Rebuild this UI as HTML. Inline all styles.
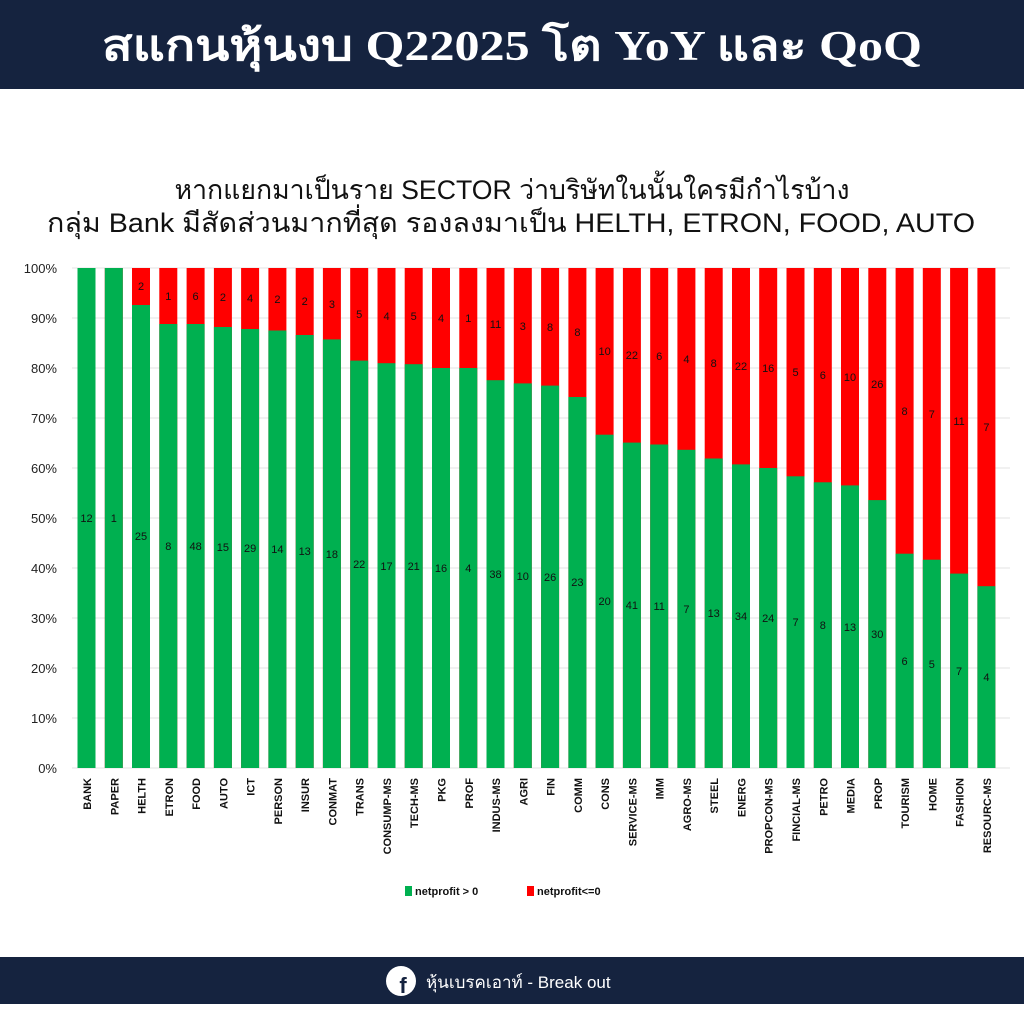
<!DOCTYPE html>
<html><head><meta charset="utf-8"><style>
html,body{margin:0;padding:0;background:#fff;width:1024px;height:1024px;overflow:hidden}
svg{display:block;font-family:"Liberation Sans","DejaVu Sans",sans-serif}
</style></head><body>
<svg width="1024" height="1024" viewBox="0 0 1024 1024" xmlns="http://www.w3.org/2000/svg">
<rect x="0" y="0" width="1024" height="89" fill="#15233f"/>
<text x="512" y="60" text-anchor="middle" fill="#fff" font-size="42" font-weight="bold" font-family="'Liberation Serif','DejaVu Serif',serif" textLength="820" lengthAdjust="spacingAndGlyphs">สแกนหุ้นงบ Q22025 โต YoY และ QoQ</text>
<text x="512" y="199" text-anchor="middle" fill="#111" font-size="27" textLength="675" lengthAdjust="spacingAndGlyphs">หากแยกมาเป็นราย SECTOR ว่าบริษัทในนั้นใครมีกำไรบ้าง</text>
<text x="511" y="232" text-anchor="middle" fill="#111" font-size="27" textLength="928" lengthAdjust="spacingAndGlyphs">กลุ่ม Bank มีสัดส่วนมากที่สุด รองลงมาเป็น HELTH, ETRON, FOOD, AUTO</text>
<g stroke="#e3e3e3" stroke-width="1">
<line x1="72" x2="1010" y1="268" y2="268"/><line x1="72" x2="1010" y1="318" y2="318"/><line x1="72" x2="1010" y1="368" y2="368"/><line x1="72" x2="1010" y1="418" y2="418"/><line x1="72" x2="1010" y1="468" y2="468"/><line x1="72" x2="1010" y1="518" y2="518"/><line x1="72" x2="1010" y1="568" y2="568"/><line x1="72" x2="1010" y1="618" y2="618"/><line x1="72" x2="1010" y1="668" y2="668"/><line x1="72" x2="1010" y1="718" y2="718"/><line x1="72" x2="1010" y1="768" y2="768"/>
</g>
<g font-size="13" fill="#222" text-anchor="end">
<text x="57" y="273">100%</text><text x="57" y="323">90%</text><text x="57" y="373">80%</text><text x="57" y="423">70%</text><text x="57" y="473">60%</text><text x="57" y="523">50%</text><text x="57" y="573">40%</text><text x="57" y="623">30%</text><text x="57" y="673">20%</text><text x="57" y="723">10%</text><text x="57" y="773">0%</text>
</g>
<g fill="#ff0000">
<rect x="77.5" y="268" width="18" height="500"/><rect x="104.8" y="268" width="18" height="500"/><rect x="132" y="268" width="18" height="500"/><rect x="159.3" y="268" width="18" height="500"/><rect x="186.6" y="268" width="18" height="500"/><rect x="213.9" y="268" width="18" height="500"/><rect x="241.1" y="268" width="18" height="500"/><rect x="268.4" y="268" width="18" height="500"/><rect x="295.7" y="268" width="18" height="500"/><rect x="322.9" y="268" width="18" height="500"/><rect x="350.2" y="268" width="18" height="500"/><rect x="377.5" y="268" width="18" height="500"/><rect x="404.7" y="268" width="18" height="500"/><rect x="432" y="268" width="18" height="500"/><rect x="459.3" y="268" width="18" height="500"/><rect x="486.5" y="268" width="18" height="500"/><rect x="513.8" y="268" width="18" height="500"/><rect x="541.1" y="268" width="18" height="500"/><rect x="568.4" y="268" width="18" height="500"/><rect x="595.6" y="268" width="18" height="500"/><rect x="622.9" y="268" width="18" height="500"/><rect x="650.2" y="268" width="18" height="500"/><rect x="677.4" y="268" width="18" height="500"/><rect x="704.7" y="268" width="18" height="500"/><rect x="732" y="268" width="18" height="500"/><rect x="759.2" y="268" width="18" height="500"/><rect x="786.5" y="268" width="18" height="500"/><rect x="813.8" y="268" width="18" height="500"/><rect x="841" y="268" width="18" height="500"/><rect x="868.3" y="268" width="18" height="500"/><rect x="895.6" y="268" width="18" height="500"/><rect x="922.8" y="268" width="18" height="500"/><rect x="950.1" y="268" width="18" height="500"/><rect x="977.4" y="268" width="18" height="500"/>
</g>
<g fill="#00b050">
<rect x="77.5" y="268" width="18" height="500"/><rect x="104.8" y="268" width="18" height="500"/><rect x="132" y="305" width="18" height="463"/><rect x="159.3" y="324" width="18" height="444"/><rect x="186.6" y="324" width="18" height="444"/><rect x="213.9" y="327" width="18" height="441"/><rect x="241.1" y="329" width="18" height="439"/><rect x="268.4" y="330.5" width="18" height="437.5"/><rect x="295.7" y="335" width="18" height="433"/><rect x="322.9" y="339.4" width="18" height="428.6"/><rect x="350.2" y="360.6" width="18" height="407.4"/><rect x="377.5" y="363.2" width="18" height="404.8"/><rect x="404.7" y="364.2" width="18" height="403.8"/><rect x="432" y="368" width="18" height="400"/><rect x="459.3" y="368" width="18" height="400"/><rect x="486.5" y="380.2" width="18" height="387.8"/><rect x="513.8" y="383.4" width="18" height="384.6"/><rect x="541.1" y="385.6" width="18" height="382.4"/><rect x="568.4" y="397" width="18" height="371"/><rect x="595.6" y="434.7" width="18" height="333.3"/><rect x="622.9" y="442.6" width="18" height="325.4"/><rect x="650.2" y="444.5" width="18" height="323.5"/><rect x="677.4" y="449.8" width="18" height="318.2"/><rect x="704.7" y="458.5" width="18" height="309.5"/><rect x="732" y="464.4" width="18" height="303.6"/><rect x="759.2" y="468" width="18" height="300"/><rect x="786.5" y="476.3" width="18" height="291.7"/><rect x="813.8" y="482.3" width="18" height="285.7"/><rect x="841" y="485.4" width="18" height="282.6"/><rect x="868.3" y="500.1" width="18" height="267.9"/><rect x="895.6" y="553.7" width="18" height="214.3"/><rect x="922.8" y="559.7" width="18" height="208.3"/><rect x="950.1" y="573.6" width="18" height="194.4"/><rect x="977.4" y="586.2" width="18" height="181.8"/>
</g>
<g font-size="11" fill="#111" text-anchor="middle">
<text x="86.5" y="522">12</text><text x="113.8" y="522">1</text><text x="141" y="540">25</text><text x="168.3" y="550">8</text><text x="195.6" y="550">48</text><text x="222.9" y="551">15</text><text x="250.1" y="552">29</text><text x="277.4" y="553">14</text><text x="304.7" y="555">13</text><text x="331.9" y="558">18</text><text x="359.2" y="568">22</text><text x="386.5" y="570">17</text><text x="413.7" y="570">21</text><text x="441" y="572">16</text><text x="468.3" y="572">4</text><text x="495.5" y="578">38</text><text x="522.8" y="580">10</text><text x="550.1" y="581">26</text><text x="577.4" y="586">23</text><text x="604.6" y="605">20</text><text x="631.9" y="609">41</text><text x="659.2" y="610">11</text><text x="686.4" y="613">7</text><text x="713.7" y="617">13</text><text x="741" y="620">34</text><text x="768.2" y="622">24</text><text x="795.5" y="626">7</text><text x="822.8" y="629">8</text><text x="850" y="631">13</text><text x="877.3" y="638">30</text><text x="904.6" y="665">6</text><text x="931.8" y="668">5</text><text x="959.1" y="675">7</text><text x="986.4" y="681">4</text>
<text x="141" y="290">2</text><text x="168.3" y="300">1</text><text x="195.6" y="300">6</text><text x="222.9" y="301">2</text><text x="250.1" y="302">4</text><text x="277.4" y="303">2</text><text x="304.7" y="305">2</text><text x="331.9" y="308">3</text><text x="359.2" y="318">5</text><text x="386.5" y="320">4</text><text x="413.7" y="320">5</text><text x="441" y="322">4</text><text x="468.3" y="322">1</text><text x="495.5" y="328">11</text><text x="522.8" y="330">3</text><text x="550.1" y="331">8</text><text x="577.4" y="336">8</text><text x="604.6" y="355">10</text><text x="631.9" y="359">22</text><text x="659.2" y="360">6</text><text x="686.4" y="363">4</text><text x="713.7" y="367">8</text><text x="741" y="370">22</text><text x="768.2" y="372">16</text><text x="795.5" y="376">5</text><text x="822.8" y="379">6</text><text x="850" y="381">10</text><text x="877.3" y="388">26</text><text x="904.6" y="415">8</text><text x="931.8" y="418">7</text><text x="959.1" y="425">11</text><text x="986.4" y="431">7</text>
</g>
<g font-size="11" font-weight="bold" fill="#111" text-anchor="end">
<text transform="translate(91,778) rotate(-90)">BANK</text><text transform="translate(118.3,778) rotate(-90)">PAPER</text><text transform="translate(145.5,778) rotate(-90)">HELTH</text><text transform="translate(172.8,778) rotate(-90)">ETRON</text><text transform="translate(200.1,778) rotate(-90)">FOOD</text><text transform="translate(227.4,778) rotate(-90)">AUTO</text><text transform="translate(254.6,778) rotate(-90)">ICT</text><text transform="translate(281.9,778) rotate(-90)">PERSON</text><text transform="translate(309.2,778) rotate(-90)">INSUR</text><text transform="translate(336.4,778) rotate(-90)">CONMAT</text><text transform="translate(363.7,778) rotate(-90)">TRANS</text><text transform="translate(391,778) rotate(-90)">CONSUMP-MS</text><text transform="translate(418.2,778) rotate(-90)">TECH-MS</text><text transform="translate(445.5,778) rotate(-90)">PKG</text><text transform="translate(472.8,778) rotate(-90)">PROF</text><text transform="translate(500,778) rotate(-90)">INDUS-MS</text><text transform="translate(527.3,778) rotate(-90)">AGRI</text><text transform="translate(554.6,778) rotate(-90)">FIN</text><text transform="translate(581.9,778) rotate(-90)">COMM</text><text transform="translate(609.1,778) rotate(-90)">CONS</text><text transform="translate(636.4,778) rotate(-90)">SERVICE-MS</text><text transform="translate(663.7,778) rotate(-90)">IMM</text><text transform="translate(690.9,778) rotate(-90)">AGRO-MS</text><text transform="translate(718.2,778) rotate(-90)">STEEL</text><text transform="translate(745.5,778) rotate(-90)">ENERG</text><text transform="translate(772.7,778) rotate(-90)">PROPCON-MS</text><text transform="translate(800,778) rotate(-90)">FINCIAL-MS</text><text transform="translate(827.3,778) rotate(-90)">PETRO</text><text transform="translate(854.5,778) rotate(-90)">MEDIA</text><text transform="translate(881.8,778) rotate(-90)">PROP</text><text transform="translate(909.1,778) rotate(-90)">TOURISM</text><text transform="translate(936.3,778) rotate(-90)">HOME</text><text transform="translate(963.6,778) rotate(-90)">FASHION</text><text transform="translate(990.9,778) rotate(-90)">RESOURC-MS</text>
</g>
<rect x="405" y="886" width="7" height="10" fill="#00b050"/>
<text x="415" y="895" font-size="11" font-weight="bold" fill="#111">netprofit &gt; 0</text>
<rect x="527" y="886" width="7" height="10" fill="#ff0000"/>
<text x="537" y="895" font-size="11" font-weight="bold" fill="#111">netprofit&lt;=0</text>
<rect x="0" y="957" width="1024" height="47" fill="#15233f"/>
<circle cx="401" cy="981" r="15" fill="#fff"/>
<text x="403" y="993" text-anchor="middle" font-size="22" font-weight="bold" fill="#15233f">f</text>
<text x="426" y="988" font-size="17" fill="#fff">หุ้นเบรคเอาท์ - Break out</text>
</svg>
</body></html>
